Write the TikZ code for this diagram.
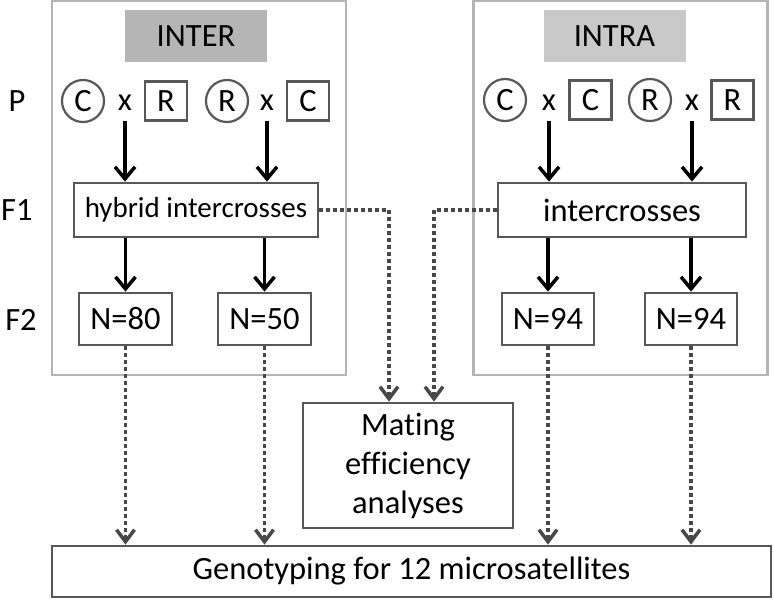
\documentclass[tikz,border=0pt]{standalone}
\usepackage{fontspec}
\setmainfont{Carlito}[Ligatures=NoCommon]
\usetikzlibrary{arrows.meta}
\definecolor{boxgray}{HTML}{585858}
\definecolor{dotgray}{HTML}{484848}
\definecolor{grpgray}{HTML}{B4B4B4}

\begin{document}
\begin{tikzpicture}[x=1pt,y=-1pt,
    every node/.style={font=\fontsize{32.5}{39}\selectfont,inner sep=0},
    box/.style={draw=boxgray,line width=2.8pt,fill=white},
    grp/.style={draw=grpgray,line width=2.5pt,minimum width=294pt,minimum height=374pt},
    tag/.style={minimum width=142pt,minimum height=52pt},
    fem/.style={draw=boxgray,line width=2.2pt,circle,minimum size=42pt},
    male/.style={draw=boxgray,line width=2.2pt,minimum width=42pt,minimum height=39pt},
    arr/.style={-{Straight Barb[length=12pt,width=20pt]},line width=3.5pt,shorten <=10pt},
    dotarr/.style={-{Straight Barb[length=12pt,width=18pt]},draw=dotgray,line width=3.5pt,dash pattern=on 3.5pt off 3.5pt}]
        \useasboundingbox (0,0) rectangle (774,600);
        % groups
        \node[grp] (inter) at (199,188) {};
        \node[grp] (intra) at (620.5,188) {};
        \node[tag,fill=black!29] (tinter) at (196,36) {INTER};
        \node[tag,fill=black!21] (tintra) at (614.5,36) {INTRA};
        % generations
        \node (p) at (17,101) {P};
        \node[anchor=west] (f1) at (1,210) {F1};
        \node (f2) at (21,320) {F2};
        % parents
        \node[fem] (c1) at (83,101) {C};
        \node (x1) at (125,103) {x};
        \node[male] (r1) at (166,101) {R};
        \node[fem] (r2) at (227,101) {R};
        \node (x2) at (267,103) {x};
        \node[male] (c2) at (308,101) {C};
        \node[fem] (c3) at (505,100) {C};
        \node (x3) at (549,103) {x};
        \node[male] (c4) at (590.5,100) {C};
        \node[fem] (r3) at (650,100) {R};
        \node (x4) at (692,103) {x};
        \node[male] (r4) at (732.5,100) {R};
        % crosses
        \node[box,minimum width=244pt,minimum height=54pt,font=\fontsize{29}{34}\selectfont] (hyb) at (196,210) {hybrid intercrosses};
        \node[box,minimum width=248pt,minimum height=54pt] (icr) at (622,210) {intercrosses};
        \node[box,minimum width=93pt,minimum height=52pt] (n80) at (125.5,319) {N=80};
        \node[box,minimum width=93pt,minimum height=52pt] (n50) at (264.5,319) {N=50};
        \node[box,minimum width=92pt,minimum height=52pt] (n94a) at (548,319) {N=94};
        \node[box,minimum width=92pt,minimum height=52pt] (n94b) at (691,319) {N=94};
        \node[box,minimum width=210pt,minimum height=125pt,align=center] (mate) at (408,465.5) {Mating\\efficiency\\analyses};
        \node[box,minimum width=719pt,minimum height=51pt] (geno) at (411.5,571.5) {Genotyping for 12 microsatellites};
        % arrows
        \draw[arr] (x1) -- (x1 |- hyb.north);
        \draw[arr] (x2) -- (x2 |- hyb.north);
        \draw[arr] (x3) -- (x3 |- icr.north);
        \draw[arr] (x4) -- (x4 |- icr.north);
        \draw[arr,shorten <=0pt] (n80 |- hyb.south) -- (n80.north);
        \draw[arr,shorten <=0pt] (n50 |- hyb.south) -- (n50.north);
        \draw[arr,shorten <=0pt] (n94a |- icr.south) -- (n94a.north);
        \draw[arr,shorten <=0pt] (n94b |- icr.south) -- (n94b.north);
        \draw[dotarr] (hyb.east) -| ([xshift=-19pt]mate.north);
        \draw[dotarr] (icr.west) -| ([xshift=26pt]mate.north);
        \draw[dotarr] (n80.south) -- (n80 |- geno.north);
        \draw[dotarr] (n50.south) -- (n50 |- geno.north);
        \draw[dotarr] (n94a.south) -- (n94a |- geno.north);
        \draw[dotarr] (n94b.south) -- (n94b |- geno.north);
\end{tikzpicture}
\end{document}
